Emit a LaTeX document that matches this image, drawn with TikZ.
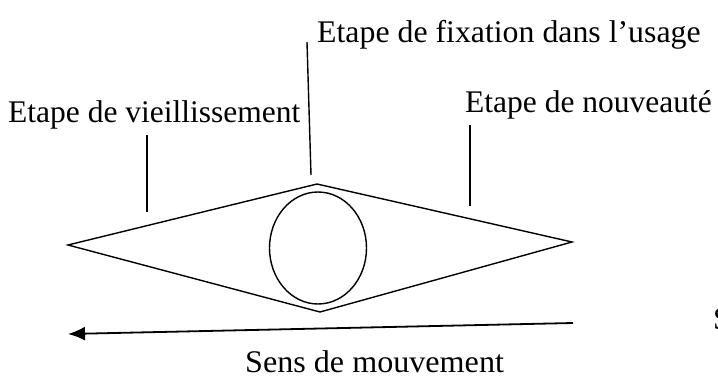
\documentclass[tikz,border=0pt]{standalone}
\usepackage{fontspec}
\setmainfont{Liberation Serif}
\usetikzlibrary{arrows.meta,shapes.geometric}
\newcommand{\wide}[2]{\scalebox{#1}[1]{#2}}
\begin{document}
\begin{tikzpicture}[x=1pt,y=-1pt,
  lbl/.style={inner sep=0pt,font=\fontsize{31.5}{33}\selectfont},
  ln/.style={line width=1.4pt}]
\useasboundingbox (0,0) rectangle (718,378);
\clip (0,0) rectangle (718,378);
% labels
\node[lbl,anchor=base west] (fix) at (317,42) {\wide{1.01}{Etape de fixation dans l’usage}};
\node[lbl,anchor=base west] (vie) at (8,122) {Etape de vieillissement};
\node[lbl,anchor=base west] (nou) at (465,112) {Etape de nouveauté};
\node[lbl,anchor=base west] (sens) at (245,372) {\wide{1.02}{Sens de mouvement}};
\node[lbl,anchor=base west] (s) at (713,329) {S};
% diamond
\coordinate (L) at (68,245);
\coordinate (T) at (317,184);
\coordinate (R) at (572,242);
\coordinate (B) at (320,312);
\draw[ln,line join=miter] (L) -- (T) -- (R) -- (B) -- cycle;
\node[draw,ln,ellipse,minimum width=97,minimum height=112,inner sep=0pt] (ell) at (318,248) {};
% leader lines
\coordinate (f1) at (307,42);
\coordinate (f2) at (311,175);
\draw[ln] (f1) -- (f2);
\coordinate (v1) at (147,135);
\coordinate (v2) at (147,212);
\draw[ln] (v1) -- (v2);
\coordinate (n1) at (470,125);
\coordinate (n2) at (470,206);
\draw[ln] (n1) -- (n2);
% arrow
\coordinate (a1) at (573,323);
\coordinate (a2) at (68,334);
\draw[line width=1.8pt,-{Latex[length=17pt,width=14pt]}] (a1) -- (a2);
\end{tikzpicture}
\end{document}
